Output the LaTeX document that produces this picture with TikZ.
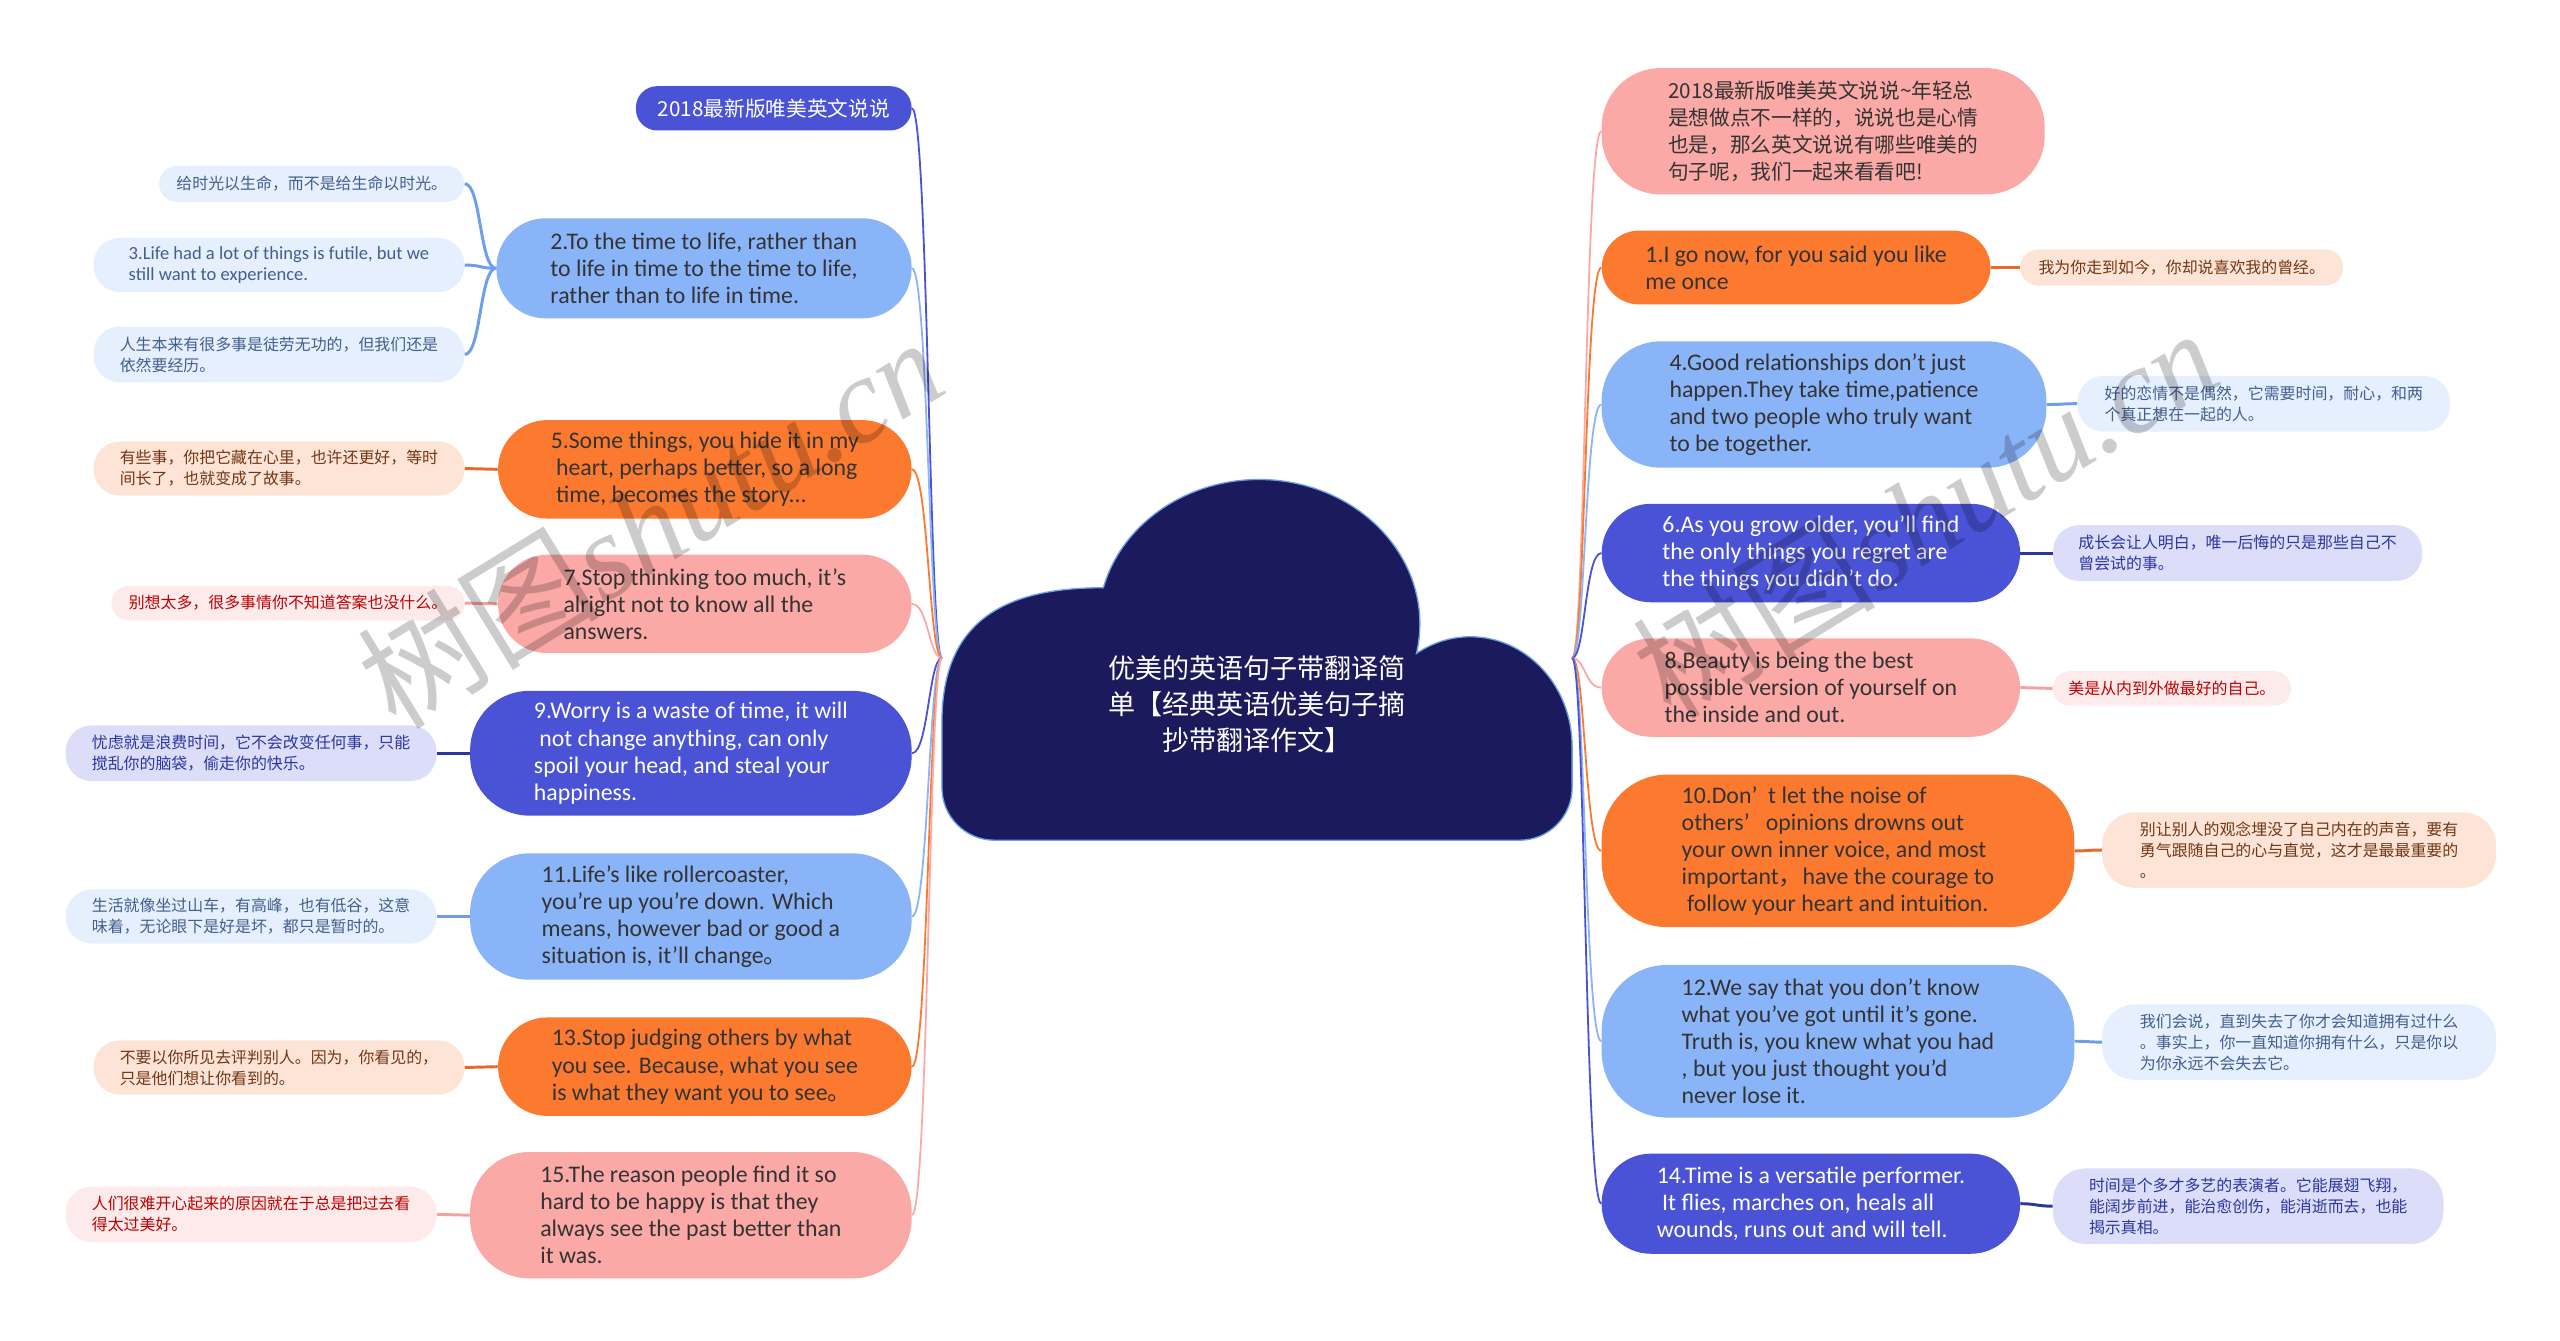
\documentclass[tikz,border=0pt]{standalone}
\usepackage{fontspec}
\setmainfont{Carlito}
\newfontfamily\cjk{Noto Sans CJK SC}
\newfontfamily\markserif{Liberation Serif}
\usetikzlibrary{positioning}

\definecolor{navy}{HTML}{1B1A5C}
\definecolor{deep}{HTML}{4A52D5}
\definecolor{sky}{HTML}{8AB4F8}
\definecolor{tang}{HTML}{FB7A2F}
\definecolor{rose}{HTML}{FBA9A6}
\definecolor{ink}{HTML}{333333}
\definecolor{deepline}{HTML}{2B379E}
\definecolor{skyline}{HTML}{6E9EEA}
\definecolor{tangline}{HTML}{E8692A}
\definecolor{roseline}{HTML}{F3A2A0}
\definecolor{deepleaf}{HTML}{DCDDF8}
\definecolor{skyleaf}{HTML}{E6EFFE}
\definecolor{tangleaf}{HTML}{FDE4D6}
\definecolor{roseleaf}{HTML}{FDEBEB}

\def\cloudpath{(606,512) -- (926,512) arc[start angle=90,end angle=0,radius=32]
  -- (958,455) arc[start angle=0,end angle=-122,x radius=62,y radius=67]
  arc[start angle=11.8,end angle=-165.5,x radius=98,y radius=88]
  .. controls (610,358) and (574,380) .. (574,440)
  -- (574,480) arc[start angle=180,end angle=90,radius=32] -- cycle}

\tikzset{
  quote/.style={align=left, inner sep=0pt, text=ink, font=\fontsize{14.5}{16.5}\selectfont},
  note/.style={align=left, inner sep=0pt, font=\fontsize{9.7}{12.8}\selectfont\cjk},
  deep box/.style={fill=deep, text=white},
  sky box/.style={fill=sky},
  tang box/.style={fill=tang},
  rose box/.style={fill=rose},
  deep note/.style={fill=deepleaf, text=deepline},
  sky note/.style={fill=skyleaf, text=skyline!60!black},
  tang note/.style={fill=tangleaf, text=tang!45!black},
  rose note/.style={fill=roseleaf, text=red!75!black},
  link/.style={line width=1.1pt},
  twig/.style={line width=1.8pt},
  wmark/.style={text=black, opacity=0.2, rotate=31.5, font=\fontsize{74}{74}\selectfont\cjk}
}

\begin{document}
\begin{tikzpicture}[x=1pt,y=-1pt]
\useasboundingbox (0,0) rectangle (1560,817);

% centre
\fill[navy, draw=skyline, line width=0.8pt] \cloudpath;
\node[text=white, align=center, font=\fontsize{16.5}{22}\selectfont\cjk] (title) at (766,429)
  {优美的英语句子带翻译简\\单【经典英语优美句子摘\\抄带翻译作文】};
\coordinate (cl) at (574,401);
\coordinate (cr) at (958,401);

% left branches
\node[quote, deep box, rounded corners=13pt, minimum width=168, minimum height=27, font=\fontsize{12.6}{15}\selectfont\cjk] (q0) at (471.5,66) {2018最新版唯美英文说说};
\node[quote, sky box, rounded corners=30pt, minimum width=253, minimum height=61] (q2) at (429,163.5)
  {2.To the time to life, rather than\\to life in time to the time to life,\\rather than to life in time.};
\node[quote, tang box, rounded corners=30pt, minimum width=252, minimum height=60] (q5) at (429.5,286)
  {5.Some things, you hide it in my\\\ heart, perhaps better, so a long\\\ time, becomes the story...};
\node[quote, rose box, rounded corners=30pt, minimum width=252, minimum height=60] (q7) at (429.5,368)
  {7.Stop thinking too much, it's\\alright not to know all the\\answers.};
\node[quote, deep box, rounded corners=36pt, minimum width=269, minimum height=76] (q9) at (421,459)
  {9.Worry is a waste of time, it will\\\ not change anything, can only\\spoil your head, and steal your\\happiness.};
\node[quote, sky box, rounded corners=36pt, minimum width=269, minimum height=77] (q11) at (421,558.5)
  {11.Life's like rollercoaster,\\you're up you're down. Which\\means, however bad or good a\\situation is, it'll change{\cjk 。}};
\node[quote, tang box, rounded corners=30pt, minimum width=252, minimum height=60] (q13) at (429.5,650)
  {13.Stop judging others by what\\you see. Because, what you see\\is what they want you to see{\cjk 。}};
\node[quote, rose box, rounded corners=36pt, minimum width=269, minimum height=77] (q15) at (421,740.5)
  {15.The reason people find it so\\hard to be happy is that they\\always see the past better than\\it was.};

\node[note, sky note, rounded corners=11pt, minimum width=186, minimum height=22] (t2a) at (190,112) {给时光以生命，而不是给生命以时光。};
\node[note, sky note, rounded corners=16pt, minimum width=226, minimum height=33, font=\fontsize{11.3}{12.8}\selectfont] (t2b) at (170,161.5)
  {3.Life had a lot of things is futile, but we\\still want to experience.};
\node[note, sky note, rounded corners=16pt, minimum width=226, minimum height=34] (t2c) at (170,216) {人生本来有很多事是徒劳无功的，但我们还是\\依然要经历。};
\node[note, tang note, rounded corners=16pt, minimum width=226, minimum height=33] (t5) at (170,285.5) {有些事，你把它藏在心里，也许还更好，等时\\间长了，也就变成了故事。};
\node[note, rose note, rounded corners=10pt, minimum width=215, minimum height=21] (t7) at (175.5,367.5) {别想太多，很多事情你不知道答案也没什么。};
\node[note, deep note, rounded corners=16pt, minimum width=226, minimum height=34] (t9) at (153,459) {忧虑就是浪费时间，它不会改变任何事，只能\\搅乱你的脑袋，偷走你的快乐。};
\node[note, sky note, rounded corners=16pt, minimum width=226, minimum height=33] (t11) at (153,558.5) {生活就像坐过山车，有高峰，也有低谷，这意\\味着，无论眼下是好是坏，都只是暂时的。};
\node[note, tang note, rounded corners=16pt, minimum width=226, minimum height=33] (t13) at (170,650.5) {不要以你所见去评判别人。因为，你看见的，\\只是他们想让你看到的。};
\node[note, rose note, rounded corners=16pt, minimum width=226, minimum height=34] (t15) at (153,740) {人们很难开心起来的原因就在于总是把过去看\\得太过美好。};

% right branches
\node[quote, rose box, rounded corners=36pt, minimum width=270, minimum height=77, font=\fontsize{12.6}{16.5}\selectfont\cjk] (q00) at (1111,80)
  {2018最新版唯美英文说说\textasciitilde 年轻总\\是想做点不一样的，说说也是心情\\也是，那么英文说说有哪些唯美的\\句子呢，我们一起来看看吧!};
\node[quote, tang box, rounded corners=23pt, minimum width=237, minimum height=45] (q1) at (1094.5,163)
  {1.I go now, for you said you like\\me once};
\node[quote, sky box, rounded corners=36pt, minimum width=271, minimum height=77] (q4) at (1111.5,246.5)
  {4.Good relationships don't just\\happen.They take time,patience\\and two people who truly want\\to be together.};
\node[quote, deep box, rounded corners=30pt, minimum width=255, minimum height=60] (q6) at (1103.5,337)
  {6.As you grow older, you'll find\\the only things you regret are\\the things you didn't do.};
\node[quote, rose box, rounded corners=30pt, minimum width=255, minimum height=60] (q8) at (1103.5,419)
  {8.Beauty is being the best\\possible version of yourself on\\the inside and out.};
\node[quote, tang box, rounded corners=40pt, minimum width=288, minimum height=93] (q10) at (1120,518.5)
  {10.Don’~~t let the noise of\\others’~~~opinions drowns out\\your own inner voice, and most\\important{\cjk ，}have the courage to\\\ follow your heart and intuition.};
\node[quote, sky box, rounded corners=40pt, minimum width=288, minimum height=93] (q12) at (1120,634.5)
  {12.We say that you don't know\\what you've got until it's gone.\\Truth is, you knew what you had\\, but you just thought you'd\\never lose it.};
\node[quote, deep box, rounded corners=30pt, minimum width=255, minimum height=61] (q14) at (1103.5,733.5)
  {14.Time is a versatile performer.\\\ It flies, marches on, heals all\\wounds, runs out and will tell.};

\node[note, tang note, rounded corners=11pt, minimum width=197, minimum height=22] (t1) at (1329.5,163) {我为你走到如今，你却说喜欢我的曾经。};
\node[note, sky note, rounded corners=16pt, minimum width=227, minimum height=34] (t4) at (1379.5,246) {好的恋情不是偶然，它需要时间，耐心，和两\\个真正想在一起的人。};
\node[note, deep note, rounded corners=16pt, minimum width=225, minimum height=34] (t6) at (1363.5,337) {成长会让人明白，唯一后悔的只是那些自己不\\曾尝试的事。};
\node[note, rose note, rounded corners=10pt, minimum width=145, minimum height=21] (t8) at (1323.5,419.5) {美是从内到外做最好的自己。};
\node[note, tang note, rounded corners=20pt, minimum width=240, minimum height=46] (t10) at (1401,518) {别让别人的观念埋没了自己内在的声音，要有\\勇气跟随自己的心与直觉，这才是最最重要的\\。};
\node[note, sky note, rounded corners=20pt, minimum width=240, minimum height=46] (t12) at (1401,635) {我们会说，直到失去了你才会知道拥有过什么\\。事实上，你一直知道你拥有什么，只是你以\\为你永远不会失去它。};
\node[note, deep note, rounded corners=20pt, minimum width=238, minimum height=46] (t14) at (1370,735) {时间是个多才多艺的表演者。它能展翅飞翔，\\能阔步前进，能治愈创伤，能消逝而去，也能\\揭示真相。};

% connectors
\foreach \q/\col in {q0/deep, q2/sky, q5/tang, q7/rose, q9/deep, q11/sky, q13/tang, q15/rose}
  \draw[link, \col] (\q.east) .. controls +(10,0) and +(-8,0) .. (cl);
\foreach \q/\col in {q00/rose, q1/tang, q4/sky, q6/deep, q8/rose, q10/tang, q12/sky, q14/deep}
  \draw[link, \col] (cr) .. controls +(8,0) and +(-10,0) .. (\q.west);
\foreach \q/\t/\col in {q2/t2a/skyline, q2/t2b/skyline, q2/t2c/skyline, q5/t5/tangline, q7/t7/roseline,
    q9/t9/deepline, q11/t11/skyline, q13/t13/tangline, q15/t15/roseline}
  \draw[twig, \col] (\q.west) .. controls +(-10,0) and +(10,0) .. (\t.east);
\foreach \q/\t/\col in {q1/t1/tangline, q4/t4/skyline, q6/t6/deepline, q8/t8/roseline,
    q10/t10/tangline, q12/t12/skyline, q14/t14/deepline}
  \draw[twig, \col] (\q.east) .. controls +(10,0) and +(-10,0) .. (\t.west);

% watermarks
\node[wmark] (wm1) at (396,318) {树图{\markserif\itshape shutu.cn}};
\node[wmark] (wm2) at (1173,312) {树图{\markserif\itshape shutu.cn}};
\end{tikzpicture}
\end{document}
